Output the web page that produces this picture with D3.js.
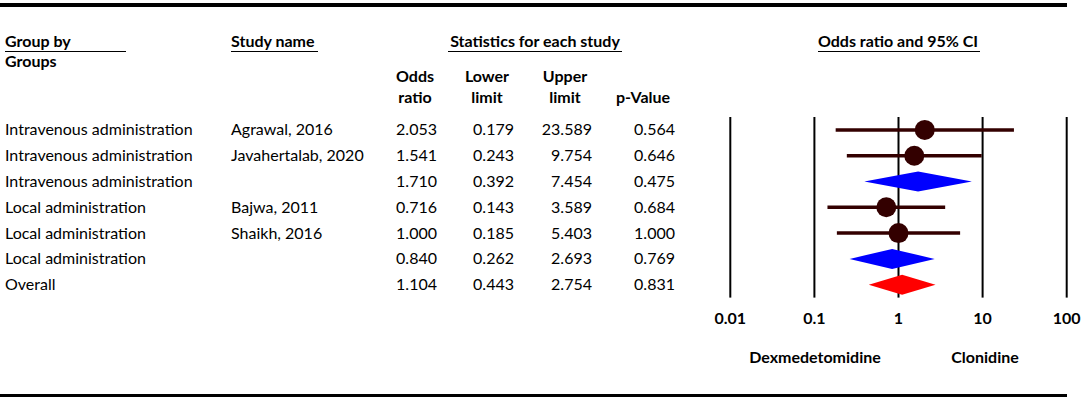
<!DOCTYPE html>
<html>
<head>
<meta charset="utf-8">
<script src="https://cdn.jsdelivr.net/npm/d3@7"></script>
<style>
  body { margin: 0; background: #fff; }
  svg { display: block; font-family: Lato, "Liberation Sans", sans-serif; }
</style>
</head>
<body>
<div id="app"></div>
<script>
// rows of the forest plot
const groups = ['Intravenous administration', 'Intravenous administration', 'Intravenous administration',
    'Local administration', 'Local administration', 'Local administration', 'Overall'];
const studies = ['Agrawal, 2016', 'Javahertalab, 2020', '', 'Bajwa, 2011', 'Shaikh, 2016', '', ''];
const oddsRatio = [2.053, 1.541, 1.710, 0.716, 1.000, 0.840, 1.104];
const lowerLimit = [0.179, 0.243, 0.392, 0.143, 0.185, 0.262, 0.443];
const upperLimit = [23.589, 9.754, 7.454, 3.589, 5.403, 2.693, 2.754];
const pValue = [0.564, 0.646, 0.475, 0.684, 1.000, 0.769, 0.831];
const rowKind = ['study', 'study', 'subgroup', 'study', 'study', 'subgroup', 'overall'];

const tickValues = [0.01, 0.1, 1, 10, 100];
const tickLabels = ['0.01', '0.1', '1', '10', '100'];
const favoursLeft = 'Dexmedetomidine';
const favoursRight = 'Clonidine';

const width = 1084;
const height = 400;
const fontSize = 16;

const svg = d3.select('#app').append('svg')
    .attr('width', width)
    .attr('height', height);

const x = d3.scaleLog().domain([0.01, 100]).range([730.3, 1066.7]);
const y = d3.scaleBand().domain(d3.range(groups.length)).range([117, 297.6]);
const rowY = i => y(i) + y.bandwidth() / 2;

// rules top and bottom
svg.append('line').attr('x1', 0).attr('x2', 1067).attr('y1', 5).attr('y2', 5)
    .attr('stroke', '#000').attr('stroke-width', 4);
svg.append('line').attr('x1', 0).attr('x2', 1067).attr('y1', 395.5).attr('y2', 395.5)
    .attr('stroke', '#000').attr('stroke-width', 3);

// headers
const header = (text, tx, ty, anchor = 'start') => svg.append('text')
    .attr('x', tx).attr('y', ty)
    .attr('text-anchor', anchor)
    .attr('font-size', fontSize)
    .attr('font-weight', 'bold')
    .text(text);

const underline = (x1, x2, uy) => svg.append('line')
    .attr('x1', x1).attr('x2', x2).attr('y1', uy).attr('y2', uy)
    .attr('stroke', '#000').attr('stroke-width', 1.2);

header('Group by', 5, 47);
underline(5, 126, 51.5);
header('Groups', 5, 67);
header('Study name', 231, 47);
underline(231, 318, 51.5);
header('Statistics for each study', 535, 47, 'middle');
underline(448, 622, 51.5);
header('Odds ratio and 95% CI', 898, 47, 'middle');
underline(818, 980, 51.5);

const colCenters = [415, 487, 565, 643];
const colHead1 = ['Odds', 'Lower', 'Upper', ''];
const colHead2 = ['ratio', 'limit', 'limit', 'p-Value'];
colCenters.forEach((cx, i) => {
    header(colHead1[i], cx, 82, 'middle');
    header(colHead2[i], cx, 103, 'middle');
});

// table body
const body = svg.append('g').attr('font-size', fontSize);
const fmt = d3.format('.3f');
const numCols = [
    { values: oddsRatio, right: 437 },
    { values: lowerLimit, right: 514 },
    { values: upperLimit, right: 592 },
    { values: pValue, right: 675 },
];

groups.forEach((g, i) => {
    const ty = rowY(i) + 5.5;
    body.append('text').attr('x', 5).attr('y', ty).text(g);
    body.append('text').attr('x', 231).attr('y', ty).text(studies[i]);
    numCols.forEach(col => {
        body.append('text').attr('x', col.right).attr('y', ty)
            .attr('text-anchor', 'end').text(fmt(col.values[i]));
    });
});

// plot grid
const plot = svg.append('g');
plot.selectAll('line.grid')
    .data(tickValues)
    .enter().append('line')
    .attr('class', 'grid')
    .attr('x1', d => x(d)).attr('x2', d => x(d))
    .attr('y1', 117).attr('y2', 297.6)
    .attr('stroke', '#000').attr('stroke-width', 2);

plot.selectAll('text.tick')
    .data(tickValues)
    .enter().append('text')
    .attr('class', 'tick')
    .attr('x', d => x(d)).attr('y', 324)
    .attr('text-anchor', 'middle')
    .attr('font-size', fontSize)
    .attr('font-weight', 'bold')
    .text((d, i) => tickLabels[i]);

header(favoursLeft, 815, 363, 'middle');
header(favoursRight, 985, 363, 'middle');

// markers
const idx = d3.range(groups.length);
const studyIdx = idx.filter(i => rowKind[i] === 'study');
const diamondIdx = idx.filter(i => rowKind[i] !== 'study');

plot.selectAll('line.ci')
    .data(studyIdx)
    .enter().append('line')
    .attr('class', 'ci')
    .attr('x1', i => x(lowerLimit[i])).attr('x2', i => x(upperLimit[i]))
    .attr('y1', i => rowY(i)).attr('y2', i => rowY(i))
    .attr('stroke', '#330000').attr('stroke-width', 3.5);

plot.selectAll('circle.pt')
    .data(studyIdx)
    .enter().append('circle')
    .attr('class', 'pt')
    .attr('cx', i => x(oddsRatio[i])).attr('cy', i => rowY(i))
    .attr('r', 10)
    .attr('fill', '#330000');

const diamondH = 10;
plot.selectAll('path.diamond')
    .data(diamondIdx)
    .enter().append('path')
    .attr('class', 'diamond')
    .attr('d', i => {
        const cy = rowY(i);
        return `M${x(lowerLimit[i])},${cy}L${x(oddsRatio[i])},${cy - diamondH}` +
            `L${x(upperLimit[i])},${cy}L${x(oddsRatio[i])},${cy + diamondH}Z`;
    })
    .attr('fill', i => rowKind[i] === 'overall' ? '#ff0000' : '#0000ff');
</script>
</body>
</html>
